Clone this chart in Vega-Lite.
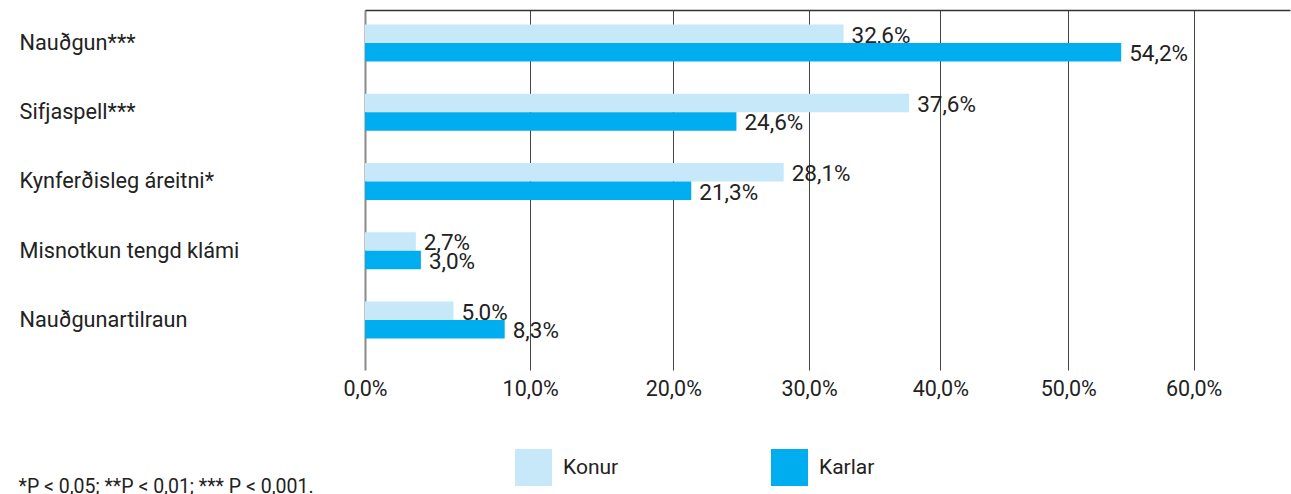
{
  "$schema": "https://vega.github.io/schema/vega-lite/v6.json",
  "width": 925,
  "height": 360,
  "autosize": {"type": "none"},
  "padding": {"left": 365, "top": 10, "right": 1, "bottom": 124},
  "background": "white",
  "config": {"font": "Roboto", "view": {"stroke": null}},
  "data": {
    "values": [
      {"cat": "Nauðgun***", "kyn": "Konur", "value": 32.6, "label": "32,6%"},
      {"cat": "Nauðgun***", "kyn": "Karlar", "value": 54.2, "label": "54,2%"},
      {"cat": "Sifjaspell***", "kyn": "Konur", "value": 37.6, "label": "37,6%"},
      {"cat": "Sifjaspell***", "kyn": "Karlar", "value": 24.6, "label": "24,6%"},
      {"cat": "Kynferðisleg áreitni*", "kyn": "Konur", "value": 28.1, "label": "28,1%"},
      {"cat": "Kynferðisleg áreitni*", "kyn": "Karlar", "value": 21.3, "label": "21,3%"},
      {"cat": "Misnotkun tengd klámi", "kyn": "Konur", "value": 2.7, "label": "2,7%"},
      {"cat": "Misnotkun tengd klámi", "kyn": "Karlar", "value": 3.0, "label": "3,0%"},
      {"cat": "Nauðgunartilraun", "kyn": "Konur", "value": 5.0, "label": "5,0%"},
      {"cat": "Nauðgunartilraun", "kyn": "Karlar", "value": 8.3, "label": "8,3%"}
    ]
  },
  "encoding": {
    "y": {
      "field": "cat",
      "type": "nominal",
      "sort": ["Nauðgun***", "Sifjaspell***", "Kynferðisleg áreitni*", "Misnotkun tengd klámi", "Nauðgunartilraun"],
      "scale": {"paddingInner": 0.466, "paddingOuter": 0.3325, "align": 0.315},
      "axis": {
        "title": null,
        "orient": "left",
        "labelAlign": "left",
        "labelBaseline": "middle",
        "labelPadding": 346,
        "ticks": false,
        "tickSize": 0,
        "domain": false,
        "grid": false,
        "labelFontSize": 21.7,
        "labelColor": "#222222",
        "labelLimit": 400
      }
    },
    "yOffset": {
      "field": "kyn",
      "type": "nominal",
      "sort": ["Konur", "Karlar"],
      "scale": {"paddingInner": 0, "paddingOuter": 0}
    },
    "x": {
      "field": "value",
      "type": "quantitative",
      "scale": {"type": "pow", "exponent": 0.9, "domain": [0, 67.8], "nice": false, "zero": true},
      "axis": {
        "orient": "bottom",
        "values": [0, 10, 20, 30, 40, 50, 60],
        "labelExpr": "replace(format(datum.value, '.1f'), '.', ',') + '%'",
        "labelFlush": false,
        "grid": true,
        "gridColor": {"condition": {"test": "datum.value === 0", "value": "#8a8a8a"}, "value": "#444444"},
        "gridWidth": {"condition": {"test": "datum.value === 0", "value": 2}, "value": 1},
        "ticks": false,
        "tickSize": 0,
        "domain": false,
        "labelFontSize": 21.5,
        "labelColor": "#222222",
        "labelPadding": 19,
        "labelBaseline": "middle",
        "title": "*P < 0,05; **P < 0,01; *** P < 0,001.",
        "titleFontSize": 19.5,
        "titleFontWeight": "normal",
        "titleColor": "#222222",
        "titleAlign": "left",
        "titleBaseline": "alphabetic",
        "titleX": -347,
        "titleY": 122
      }
    }
  },
  "layer": [
    {
      "mark": {"type": "text", "align": "left", "baseline": "middle", "dx": 8, "dy": 2, "fontSize": 22.5, "color": "#222222"},
      "encoding": {
        "text": {"field": "label"},
        "x": {
          "field": "value",
          "type": "quantitative",
          "axis": {
            "orient": "top",
            "domain": true,
            "domainColor": "#333333",
            "domainWidth": 1.5,
            "labels": false,
            "ticks": false,
            "grid": false,
            "title": null
          }
        }
      }
    },
    {
      "mark": {"type": "bar"},
      "encoding": {
        "color": {
          "field": "kyn",
          "type": "nominal",
          "scale": {"domain": ["Konur", "Karlar"], "range": ["#c6e8f8", "#00aeef"]},
          "legend": {
            "title": null,
            "orient": "none",
            "legendX": 150,
            "legendY": 439,
            "direction": "horizontal",
            "symbolType": "square",
            "symbolSize": 1369,
            "symbolStrokeWidth": 0,
            "symbolOpacity": 1,
            "labelFontSize": 21,
            "labelColor": "#222222",
            "labelOffset": 11,
            "columnPadding": 152,
            "padding": 0
          }
        }
      }
    }
  ]
}
